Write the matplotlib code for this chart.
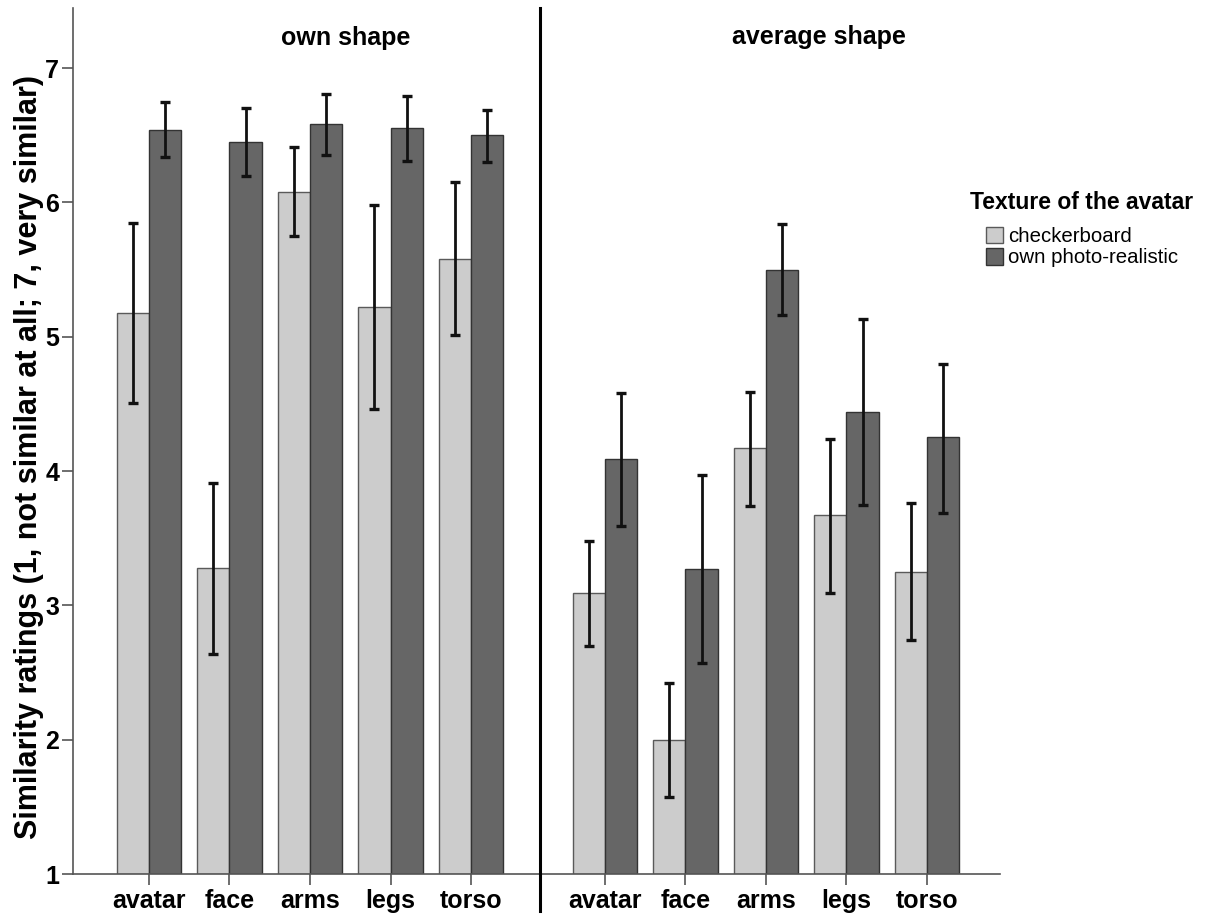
import numpy as np
import matplotlib
matplotlib.use('Agg')
import matplotlib.pyplot as plt
from matplotlib.lines import Line2D

plt.rcParams['font.family'] = ['Liberation Sans', 'DejaVu Sans']

# Datos
parts = ['avatar', 'face', 'arms', 'legs', 'torso']
panels = ['own shape', 'average shape']
textures = ['checkerboard', 'own photo-realistic']

own_checker = [5.18, 3.28, 6.08, 5.22, 5.58]
own_checker_lo = [4.51, 2.64, 5.75, 4.46, 5.01]
own_checker_hi = [5.85, 3.91, 6.41, 5.98, 6.15]
own_photo = [6.54, 6.45, 6.58, 6.55, 6.50]
own_photo_lo = [6.34, 6.20, 6.35, 6.31, 6.30]
own_photo_hi = [6.75, 6.70, 6.81, 6.79, 6.69]

avg_checker = [3.09, 2.00, 4.17, 3.67, 3.25]
avg_checker_lo = [2.70, 1.57, 3.74, 3.09, 2.74]
avg_checker_hi = [3.48, 2.42, 4.59, 4.24, 3.76]
avg_photo = [4.09, 3.27, 5.50, 4.44, 4.25]
avg_photo_lo = [3.59, 2.57, 5.16, 3.75, 3.69]
avg_photo_hi = [4.58, 3.97, 5.84, 5.13, 4.80]

light = '#cccccc'
dark = '#666666'
W, H = 1207, 915

fig = plt.figure(figsize=(W / 100, H / 100), dpi=100)
bot = (H - 874) / H
hgt = (874 - 8) / H
ax1 = fig.add_axes([73 / W, bot, (540 - 73) / W, hgt])
ax2 = fig.add_axes([540 / W, bot, (1000 - 540) / W, hgt])

x = np.arange(len(parts))
bw = 0.4
data = [
    (ax1, own_checker, own_checker_lo, own_checker_hi, own_photo, own_photo_lo, own_photo_hi),
    (ax2, avg_checker, avg_checker_lo, avg_checker_hi, avg_photo, avg_photo_lo, avg_photo_hi),
]
handles = []
for ax, c, clo, chi, p, plo, phi in data:
    c, clo, chi = np.array(c), np.array(clo), np.array(chi)
    p, plo, phi = np.array(p), np.array(plo), np.array(phi)
    b1 = ax.bar(x - bw / 2, c - 1, bw, bottom=1, color=light, edgecolor='#5a5a5a', linewidth=1)
    b2 = ax.bar(x + bw / 2, p - 1, bw, bottom=1, color=dark, edgecolor='#333333', linewidth=1)
    ax.errorbar(x - bw / 2, c, yerr=[c - clo, chi - c], fmt='none', ecolor='#111111',
                elinewidth=2.0, capsize=3.5, capthick=2.4)
    ax.errorbar(x + bw / 2, p, yerr=[p - plo, phi - p], fmt='none', ecolor='#111111',
                elinewidth=2.0, capsize=3.5, capthick=2.4)
    handles = [b1, b2]
    ax.set_ylim(1, 7.447)
    ax.set_xticks(x)
    ax.set_xticklabels(parts, fontsize=18, fontweight='bold')
    ax.tick_params(axis='x', length=8, width=1.2, color='#555555', pad=3)
    for s in ['top', 'right', 'left']:
        ax.spines[s].set_visible(False)
    ax.spines['bottom'].set_color('#555555')
    ax.spines['bottom'].set_linewidth(1.2)

ax1.set_xlim(-0.944, 4.857)
ax2.set_xlim(-0.807, 4.907)

ax1.spines['left'].set_visible(True)
ax1.spines['left'].set_color('#555555')
ax1.spines['left'].set_linewidth(1.2)
ax1.set_yticks([1, 2, 3, 4, 5, 6, 7])
ax1.set_yticklabels(['1', '2', '3', '4', '5', '6', '7'], fontsize=18, fontweight='bold')
ax1.tick_params(axis='y', length=8, width=1.2, color='#555555', pad=2)
ax2.set_yticks([])

# línea divisoria entre paneles
fig.add_artist(Line2D([540 / W, 540 / W], [1 - 8 / H, 1 - 911 / H], color='black',
                      lw=2.2, transform=fig.transFigure))

fig.text(346 / W, 1 - 45 / H, panels[0], ha='center', va='baseline', fontsize=18, fontweight='bold')
fig.text(819 / W, 1 - 44 / H, panels[1], ha='center', va='baseline', fontsize=18, fontweight='bold')

fig.text(29 / W, 1 - 457 / H, 'Similarity ratings (1, not similar at all; 7, very similar)',
         rotation=90, ha='center', va='center', fontsize=22, fontweight='bold')

fig.text(970 / W, 1 - 202 / H, 'Texture of the avatar', ha='left', va='center',
         fontsize=16.5, fontweight='bold')
fig.legend(handles, textures, loc='upper left', bbox_to_anchor=(986 / W, 1 - 227 / H),
           frameon=False, borderpad=0, borderaxespad=0, handlelength=0.85, handleheight=0.85,
           handletextpad=0.25, labelspacing=0.1, fontsize=14.7)

fig.savefig('out.png', dpi=100)
